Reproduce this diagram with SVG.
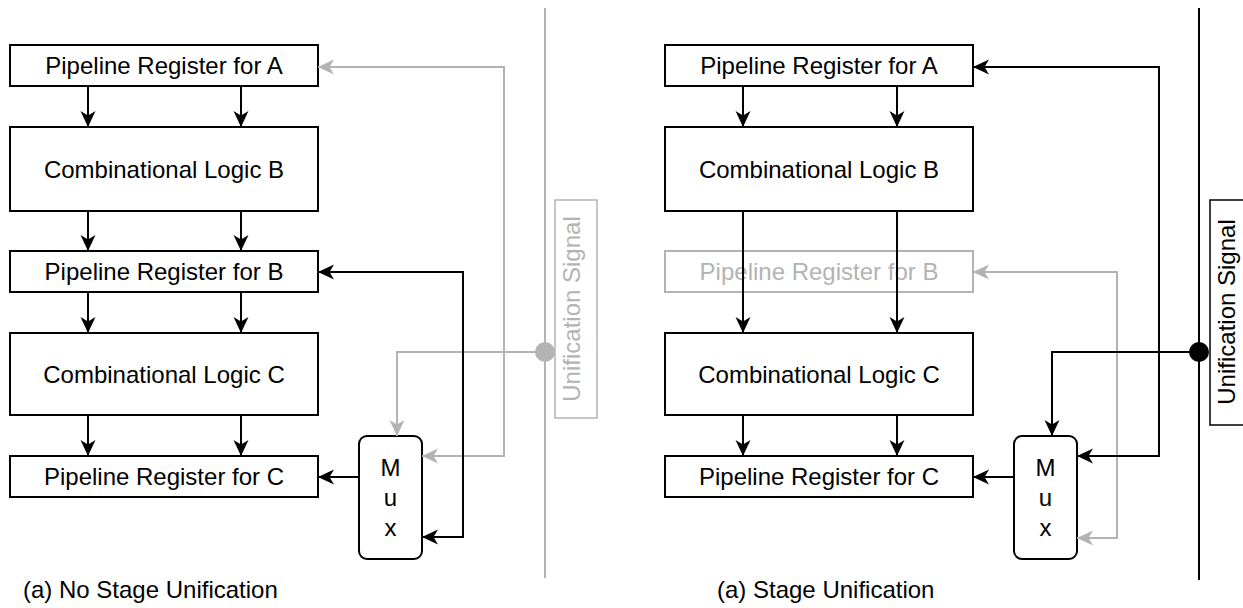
<svg xmlns="http://www.w3.org/2000/svg" width="1243" height="608" viewBox="0 0 1243 608">
  <style>
    .box { fill: #ffffff; stroke: #000000; stroke-width: 2; }
    .gbox { fill: #ffffff; stroke: #b3b3b3; stroke-width: 2; }
    .lbox { fill: none; stroke: #b3b3b3; stroke-width: 1.5; }
    .lboxk { fill: none; stroke: #000000; stroke-width: 1.5; }
    .t { font-family: "Liberation Sans", Arial, sans-serif; font-size: 24px; fill: #000000; text-anchor: middle; }
    .gt { fill: #b3b3b3; }
    .cap { font-family: "Liberation Sans", Arial, sans-serif; font-size: 24px; fill: #000000; }
    .k { fill: none; stroke: #000000; stroke-width: 2; }
    .g { fill: none; stroke: #b3b3b3; stroke-width: 2; }
    .ka { marker-end: url(#ak); }
    .ga { marker-end: url(#ag); }
  </style>
  <defs>
    <marker id="ak" markerUnits="userSpaceOnUse" markerWidth="20" markerHeight="20" viewBox="-18 -10 20 20" refX="0" refY="0" orient="auto-start-reverse" overflow="visible">
      <path d="M0,0 L-16,-7.5 L-11.5,0 L-16,7.5 Z" fill="#000000"/>
    </marker>
    <marker id="ag" markerUnits="userSpaceOnUse" markerWidth="20" markerHeight="20" viewBox="-18 -10 20 20" refX="0" refY="0" orient="auto-start-reverse" overflow="visible">
      <path d="M0,0 L-16,-7.5 L-11.5,0 L-16,7.5 Z" fill="#b3b3b3"/>
    </marker>
  </defs>

  <!-- Left diagram nodes -->
  <g id="L-regA"><rect class="box" x="10" y="45" width="308" height="41"/><text class="t" x="164" y="73.5">Pipeline Register for A</text></g>
  <g id="L-combB"><rect class="box" x="10" y="127" width="308" height="84"/><text class="t" x="164" y="177.5">Combinational Logic B</text></g>
  <g id="L-regB"><rect class="box" x="10" y="251" width="308" height="41"/><text class="t" x="164" y="279.5">Pipeline Register for B</text></g>
  <g id="L-combC"><rect class="box" x="10" y="333" width="308" height="82"/><text class="t" x="164" y="382.5">Combinational Logic C</text></g>
  <g id="L-regC"><rect class="box" x="10" y="456" width="308" height="41"/><text class="t" x="164" y="484.5">Pipeline Register for C</text></g>
  <g id="L-mux"><rect class="box" x="359" y="436" width="63" height="123" rx="8"/><text class="t" x="390.5" y="476">M</text><text class="t" x="390.5" y="506">u</text><text class="t" x="390.5" y="536">x</text></g>
  <g id="L-signal">
    <line class="g" x1="545" y1="8" x2="545" y2="578"/>
    <circle cx="545" cy="352" r="10" fill="#b3b3b3"/>
  </g>
  <g id="L-label"><rect class="lbox" x="555" y="200" width="42" height="218"/><text class="t gt" transform="translate(580 309) rotate(-90)" x="0" y="0">Unification Signal</text></g>
  <g id="L-caption"><text class="cap" x="23" y="598">(a) No Stage Unification</text></g>

  <!-- Right diagram nodes -->
  <g id="R-regA"><rect class="box" x="665" y="45" width="308" height="41"/><text class="t" x="819" y="73.5">Pipeline Register for A</text></g>
  <g id="R-combB"><rect class="box" x="665" y="127" width="308" height="84"/><text class="t" x="819" y="177.5">Combinational Logic B</text></g>
  <g id="R-regB"><rect class="gbox" x="665" y="251" width="308" height="41"/><text class="t gt" x="819" y="279.5">Pipeline Register for B</text></g>
  <g id="R-combC"><rect class="box" x="665" y="333" width="308" height="82"/><text class="t" x="819" y="382.5">Combinational Logic C</text></g>
  <g id="R-regC"><rect class="box" x="665" y="456" width="308" height="41"/><text class="t" x="819" y="484.5">Pipeline Register for C</text></g>
  <g id="R-mux"><rect class="box" x="1014" y="436" width="63" height="123" rx="8"/><text class="t" x="1045.5" y="476">M</text><text class="t" x="1045.5" y="506">u</text><text class="t" x="1045.5" y="536">x</text></g>
  <g id="R-label"><rect class="lboxk" x="1210" y="200" width="42" height="225"/><text class="t" transform="translate(1235 312) rotate(-90)" x="0" y="0">Unification Signal</text></g>
  <g id="R-caption"><text class="cap" x="717" y="598">(a) Stage Unification</text></g>

  <!-- Connectors -->
  <g id="connectors">
    <!-- left gray -->
    <path class="g ga" d="M545,352 H397 V436"/>
    <path class="g ga" d="M318,67 H504 V456 H422" style="marker-start:url(#ag)"/>
    <!-- left black -->
    <path class="k ka" d="M88,86 V127"/>
    <path class="k ka" d="M241,86 V127"/>
    <path class="k ka" d="M88,211 V251"/>
    <path class="k ka" d="M241,211 V251"/>
    <path class="k ka" d="M88,292 V333"/>
    <path class="k ka" d="M241,292 V333"/>
    <path class="k ka" d="M88,415 V456"/>
    <path class="k ka" d="M241,415 V456"/>
    <path class="k ka" d="M359,477 H318"/>
    <path class="k ka" d="M318,272 H463 V537 H422" style="marker-start:url(#ak)"/>

    <!-- right gray -->
    <path class="g ga" d="M973,272 H1117 V538 H1077" style="marker-start:url(#ag)"/>
    <!-- right black -->
    <path class="k ka" d="M743,86 V127"/>
    <path class="k ka" d="M897,86 V127"/>
    <path class="k ka" d="M743,211 V333"/>
    <path class="k ka" d="M897,211 V333"/>
    <path class="k ka" d="M743,415 V456"/>
    <path class="k ka" d="M897,415 V456"/>
    <path class="k ka" d="M1014,477 H973"/>
    <path class="k ka" d="M973,67 H1159 V456 H1077" style="marker-start:url(#ak)"/>
    <path class="k ka" d="M1199,352 H1052 V436"/>
    <line class="k" x1="1199" y1="8" x2="1199" y2="580"/>
    <circle cx="1199" cy="352" r="10" fill="#000000"/>
  </g>
</svg>
